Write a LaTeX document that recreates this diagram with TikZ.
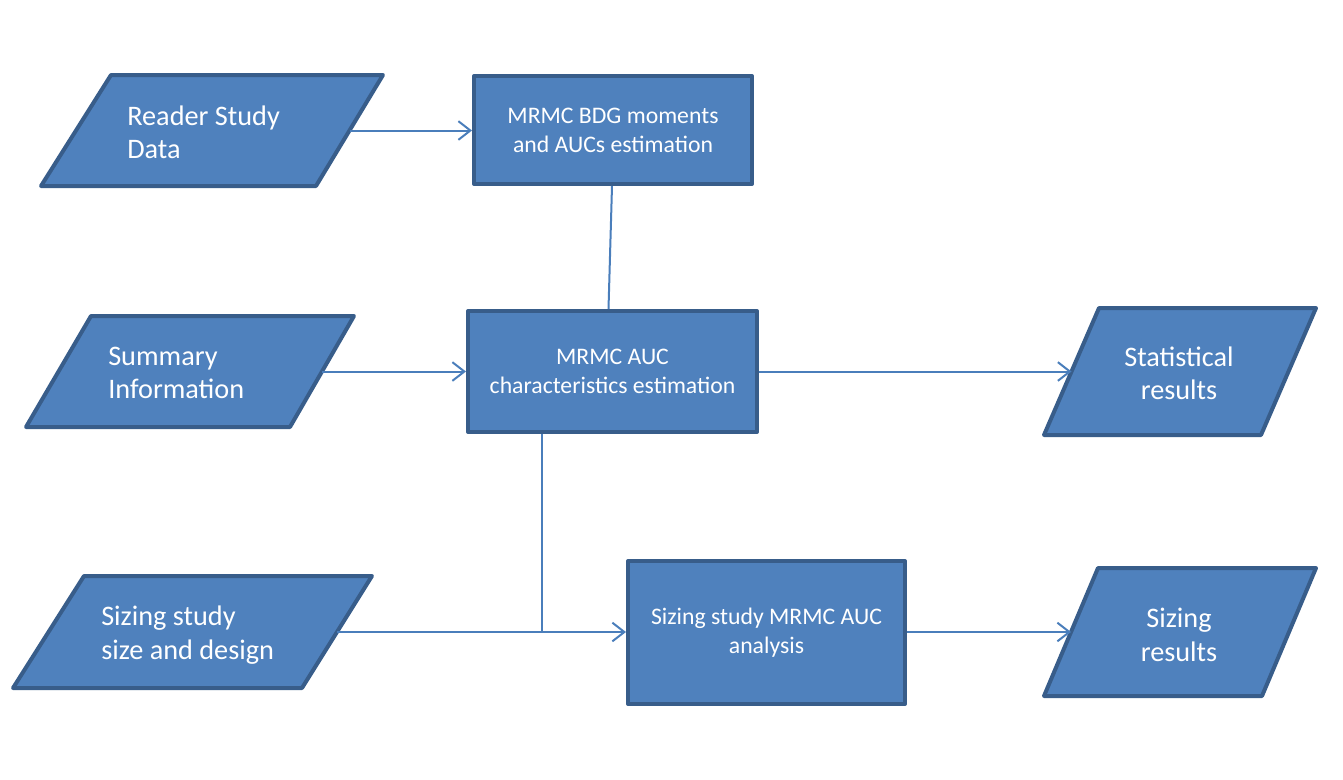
\documentclass[tikz,border=0pt]{standalone}
\usepackage{fontspec}
\setmainfont{Carlito}
\usetikzlibrary{arrows.meta,calc}
\definecolor{boxfill}{HTML}{4F81BD}
\definecolor{boxline}{HTML}{385D8A}
\definecolor{conn}{HTML}{4A7EBB}
\tikzset{
  shapeline/.style={draw=boxline,fill=boxfill,line width=3pt,line join=round},
  procbox/.style={shapeline,rectangle,inner sep=0pt,text=white,align=center,
    font=\fontsize{17.8}{21.8}\selectfont},
  iotext/.style={text=white,inner sep=0pt,font=\fontsize{21.2}{25}\selectfont},
  link/.style={draw=conn,line width=1.5pt},
  arr/.style={link,-{Straight Barb[length=9pt,width=14pt,line width=1.5pt]}}
}
\begin{document}
\begin{tikzpicture}[x=0.75pt,y=-0.75pt]
\useasboundingbox (0,0) rectangle (1343,779);
% input/output parallelograms
\coordinate (r1) at (111,75);  \coordinate (r2) at (383,75);  \coordinate (r3) at (316,186);  \coordinate (r4) at (41,186);
\coordinate (s1) at (91,316);  \coordinate (s2) at (354,316); \coordinate (s3) at (290,427);  \coordinate (s4) at (26,427);
\coordinate (z1) at (84,576);  \coordinate (z2) at (372,576); \coordinate (z3) at (302,688);  \coordinate (z4) at (13,688);
\coordinate (t1) at (1099,308);\coordinate (t2) at (1316,308);\coordinate (t3) at (1261,435); \coordinate (t4) at (1044,435);
\coordinate (u1) at (1098,568);\coordinate (u2) at (1316,568);\coordinate (u3) at (1262,696); \coordinate (u4) at (1044,696);
\path[shapeline] (r1) -- (r2) -- (r3) -- (r4) -- cycle;
\path[shapeline] (s1) -- (s2) -- (s3) -- (s4) -- cycle;
\path[shapeline] (z1) -- (z2) -- (z3) -- (z4) -- cycle;
\path[shapeline] (t1) -- (t2) -- (t3) -- (t4) -- cycle;
\path[shapeline] (u1) -- (u2) -- (u3) -- (u4) -- cycle;
\node[iotext,align=left,anchor=west] (rsd) at (127,132) {Reader Study\\Data};
\node[iotext,align=left,anchor=west] (sum) at (108,373) {Summary\\Information};
\node[iotext,align=left,anchor=west] (szd) at (101,635) {Sizing study\\size and design};
\node[iotext,align=center] (stat) at (1179,373) {Statistical\\results};
\node[iotext,align=center] (szr) at (1179,635) {Sizing\\results};
% process boxes (sizes in pt: px * 0.75)
\node[procbox,minimum width=208.5pt,minimum height=81pt] (b1) at (613,130) {MRMC BDG moments\\and AUCs estimation};
\node[procbox,minimum width=216.75pt,minimum height=90.75pt] (b2) at (612.5,371.5) {MRMC AUC\\characteristics estimation};
\node[procbox,minimum width=207.75pt,minimum height=107.25pt] (b3) at (766.5,632.5) {Sizing study MRMC AUC\\analysis};
% connector end points on the parallelogram edges
\coordinate (rR) at ($(r2)!0.5!(r3)$);
\coordinate (sR) at ($(s2)!0.5!(s3)$);
\coordinate (zR) at ($(z2)!0.5!(z3)$);
\coordinate (tL) at ($(t1)!0.5!(t4)$);
\coordinate (uL) at ($(u1)!0.5!(u4)$);
\coordinate (j) at (542,632);
% connectors
\draw[arr] (rR) -- (rR -| b1.west);
\draw[link] ([xshift=-0.75pt]b1.south) -- ([xshift=-3pt]b2.north);
\draw[arr] (sR) -- (sR -| b2.west);
\draw[arr] (sR -| b2.east) -- (tL);
\draw[link] (j |- b2.south) -- (j);
\draw[arr] (zR) -- (zR -| b3.west);
\draw[arr] (zR -| b3.east) -- (uL);
\end{tikzpicture}
\end{document}
